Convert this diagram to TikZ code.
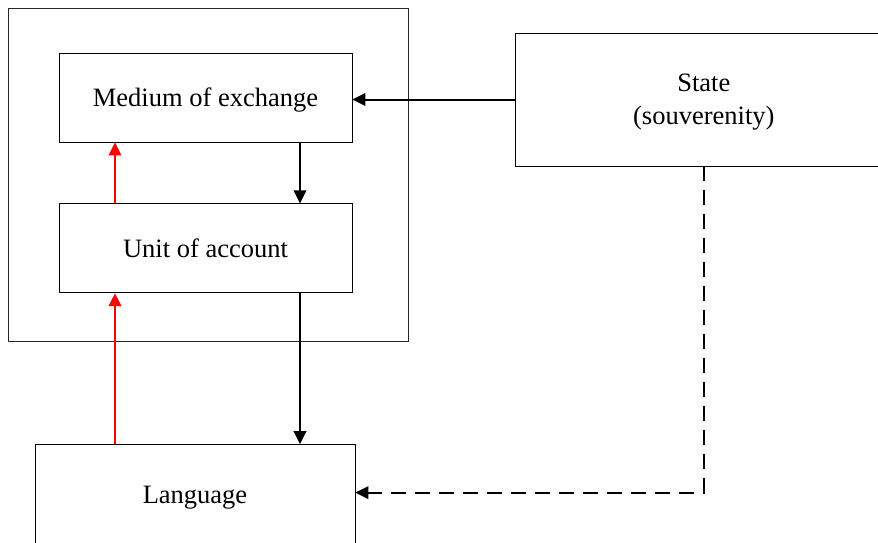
\documentclass[tikz,border=0pt]{standalone}
\usepackage{fontspec}
\setmainfont{Liberation Serif}
\usetikzlibrary{positioning,arrows.meta}

\begin{document}
\begin{tikzpicture}[x=1pt, y=-1pt,
	node distance = 61pt,
	box/.style = {rectangle, draw=black, line width=0.8pt, inner sep=0pt,
		align=center, text depth=0pt, font=\fontsize{26.5}{33}\selectfont},
	frame/.style = {rectangle, draw=black!85, line width=0.9pt},
	arr/.style = {line width=2pt, -{Triangle[length=13pt,width=12.5pt]}},
	]
	\useasboundingbox (0,0) rectangle (878,542);
	\clip (0,0) rectangle (878,542);
	
	\node[frame, minimum width=400pt, minimum height=333pt] (money) at (208,174.5) {};
	
	\begin{scope}[every node/.append style={box}]
	
	\node[minimum width=293pt, minimum height=89pt] (medium) at (205.5,97.5) {Medium of exchange};
	
	\node[minimum width=293pt, minimum height=89pt, below=of medium] (unit) {Unit of account};
	
	\node[minimum width=376pt, minimum height=133pt, right=163pt of medium, yshift=-2pt] (state) {State\\(souverenity)};
	
	\node[minimum width=320pt, minimum height=100pt, below=151pt of unit, xshift=-10.5pt] (lang) {Language};
	
	\end{scope}
	
	\draw[arr] (state.west) -- (state.west -| medium.east);
	
	\draw[arr] ([xshift=94.5pt]medium.south) -- ([xshift=94.5pt]unit.north);
	\draw[arr, red] ([xshift=-90.5pt]unit.north) -- ([xshift=-90.5pt]medium.south);
	
	\draw[arr] ([xshift=94.5pt]unit.south) -- ([xshift=105pt]lang.north);
	\draw[arr, red] ([xshift=-80pt]lang.north) -- ([xshift=-90.5pt]unit.south);
	
	% state down and round to language
	\draw[arr, dash pattern=on 15pt off 9pt] (state.south) |- ([yshift=2pt]lang.east);
\end{tikzpicture}
\end{document}
